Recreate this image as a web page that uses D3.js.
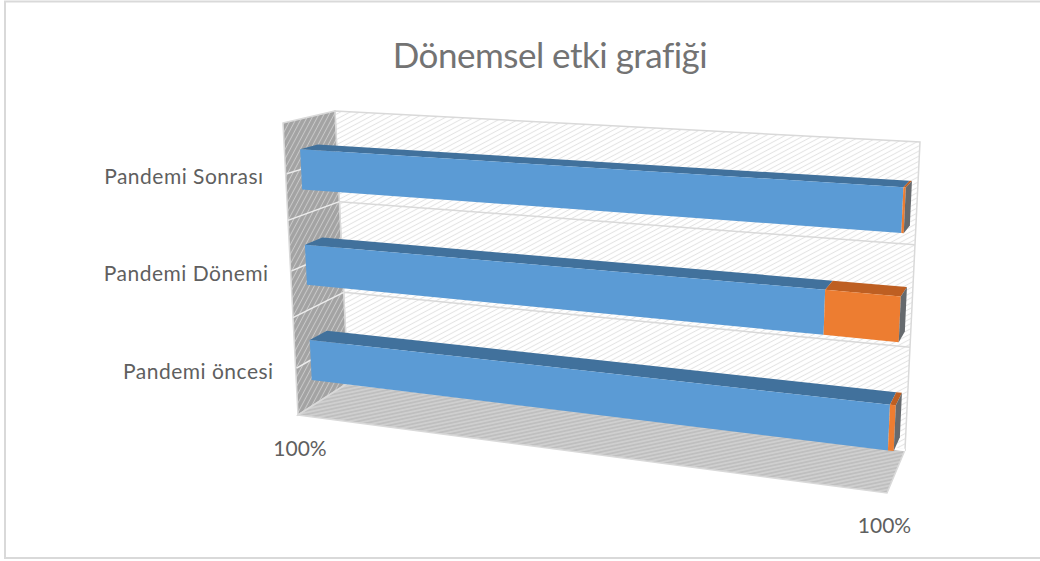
<!DOCTYPE html>
<html><head><meta charset="utf-8">
<script src="https://cdn.jsdelivr.net/npm/d3@7/dist/d3.min.js"></script>
<style>html,body{margin:0;padding:0;background:#fff}svg{display:block}</style>
</head><body><svg id="c" width="1040" height="561"></svg>
<script>
const title = "Dönemsel etki grafiği";
const categories = ["Pandemi Sonrası", "Pandemi Dönemi", "Pandemi öncesi"];
const blueValues = [99.6, 87.3, 99];
const orangeValues = [0.4, 12.7, 1];
const valueTickLabels = ["100%", "100%"];

const svg = d3.select("#c");
const font = "Lato, 'Open Sans', sans-serif";
const textColor = "#5f5f5f";

const box = {
  flt:[283,123], frt:[902,158], flb:[298,415], frb:[887,493],
  blt:[335,111], brt:[920,142], blb:[348,383], brb:[905,450]
};
const lerp = (a,b,t)=>[a[0]+(b[0]-a[0])*t, a[1]+(b[1]-a[1])*t];
const project = (u,h,d)=>{
  const fl=lerp(box.flt,box.flb,h), fr=lerp(box.frt,box.frb,h);
  const bl=lerp(box.blt,box.blb,h), br=lerp(box.brt,box.brb,h);
  return lerp(lerp(fl,fr,u), lerp(bl,br,u), d);
};
const xScale = d3.scaleLinear().domain([0,100]).range([0,1]);
const yScale = d3.scaleBand().domain(categories).range([0.008,1.008]).paddingInner(0.58).paddingOuter(0.29);
const barFront = 0.3, barBack = 0.64;
const line = d3.line();
const poly = pts => line(pts)+"Z";

const defs = svg.append("defs");
function hatch(id,bg,fg,size,angle,sw){
  const p = defs.append("pattern").attr("id",id).attr("patternUnits","userSpaceOnUse")
    .attr("width",size).attr("height",size).attr("patternTransform",`rotate(${angle})`);
  p.append("rect").attr("width",size).attr("height",size).attr("fill",bg);
  p.append("line").attr("x1",0).attr("x2",size).attr("y1",size/2).attr("y2",size/2)
    .attr("stroke",fg).attr("stroke-width",sw);
}
hatch("hBack","#ffffff","#e4e4e4",4.5,-28,1);
hatch("hSide","#a3a3a3","#c9c9c9",4.5,-62,1);
hatch("hFloor","#bfbfbf","#dcdcdc",3.5,-12,1);

svg.append("rect").attr("x",5).attr("y",1.5).attr("width",1045).attr("height",556.5)
  .attr("fill","#fff").attr("stroke","#d9d9d9").attr("stroke-width",2);

const wall = (pts,fill)=>svg.append("path").attr("d",poly(pts)).attr("fill",fill)
  .attr("stroke","#d9d9d9").attr("stroke-width",1.5);
wall([box.blt,box.brt,box.brb,box.blb],"url(#hBack)");
wall([box.flt,box.blt,box.blb,box.flb],"url(#hSide)");
wall([box.blb,box.brb,box.frb,box.flb],"url(#hFloor)");

const gridH = [1/3,2/3];
gridH.forEach(h=>{
  svg.append("path").attr("d",line([project(0,h,1),project(1,h,1)])).attr("stroke","#d9d9d9").attr("stroke-width",1.5).attr("fill","none");
  svg.append("path").attr("d",line([project(0,h,0),project(0,h,1)])).attr("stroke","#ececec").attr("stroke-width",1.5).attr("fill","none");
});
svg.append("path").attr("d",line([project(0,1,1),project(1,1,1)])).attr("stroke","#ffffff").attr("stroke-width",2.5).attr("fill","none");
categories.forEach(c=>{
  const h = yScale(c)+yScale.bandwidth()/2;
  svg.append("path").attr("d",line([project(0,h,0.02),project(0,h,barFront)])).attr("stroke","#ececec").attr("stroke-width",1.5).attr("fill","none");
});

const colors = {
  blue:{front:"#5b9bd5", top:"#41719c"},
  orange:{front:"#ed7d31", top:"#be5f22"}
};
categories.forEach((c,i)=>{
  const h0 = yScale(c), h1 = h0+yScale.bandwidth();
  const segs = [
    {v0:0, v1:blueValues[i], col:colors.blue},
    {v0:blueValues[i], v1:blueValues[i]+orangeValues[i], col:colors.orange}
  ];
  const g = svg.append("g");
  segs.forEach(s=>{
    const u0=xScale(s.v0), u1=xScale(s.v1);
    g.append("path").attr("d",poly([project(u0,h0,barFront),project(u1,h0,barFront),project(u1,h0,barBack),project(u0,h0,barBack)])).attr("fill",s.col.top);
    g.append("path").attr("d",poly([project(u0,h0,barFront),project(u1,h0,barFront),project(u1,h1,barFront),project(u0,h1,barFront)])).attr("fill",s.col.front);
  });
  const uE = xScale(blueValues[i]+orangeValues[i]);
  g.append("path").attr("d",poly([project(uE,h0,barFront),project(uE,h0,barBack),project(uE,h1,barBack),project(uE,h1,barFront)])).attr("fill","#666a6e");
});

svg.append("text").attr("x",550).attr("y",68).attr("text-anchor","middle")
  .attr("font-family",font).attr("font-size",35).attr("letter-spacing",-0.5).attr("fill","#737373").text(title);
categories.forEach(c=>{
  const h = yScale(c)+yScale.bandwidth()/2;
  const p = project(0,h,0);
  svg.append("text").attr("x",p[0]-22).attr("y",p[1]+10).attr("text-anchor","end")
    .attr("font-family",font).attr("font-size",21).attr("letter-spacing",0.5).attr("fill",textColor).text(c);
});
const tickAnchors = [project(0,1,0), project(1,1,0)];
valueTickLabels.forEach((t,i)=>{
  const p = tickAnchors[i];
  svg.append("text").attr("x",p[0]+(i?-2.5:2)).attr("y",p[1]+(i?40:41)).attr("text-anchor","middle")
    .attr("font-family",font).attr("font-size",21).attr("fill",textColor).text(t);
});
</script></body></html>
